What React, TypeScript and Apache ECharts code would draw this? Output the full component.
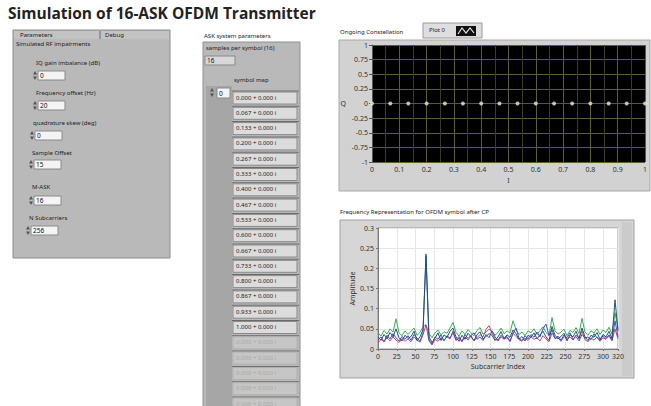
import React, { useEffect, useRef } from "react";
import * as echarts from "echarts";

const pageTitle = "Simulation of 16-ASK OFDM Transmitter";

// ASK symbol map (16 levels, real part; imaginary part all zero)
const symbolMapRe = [0.0, 0.067, 0.133, 0.2, 0.267, 0.333, 0.4, 0.467, 0.533, 0.6, 0.667, 0.733, 0.8, 0.867, 0.933, 1.0];
const symbolMapIm = [0, 0, 0, 0, 0, 0, 0, 0, 0, 0, 0, 0, 0, 0, 0, 0];

// Left parameter controls
const paramLabels = ["IQ gain imbalance (dB)", "Frequency offset (Hz)", "quadrature skew (deg)", "Sample Offset", "M-ASK", "N Subcarriers"];
const paramValues = ["0", "20", "0", "15", "16", "256"];

// Spectrum (subcarrier index, amplitude)
const subcarrierIdx = [
  0, 4, 8, 12, 16, 20, 24, 28, 32, 36, 40, 44, 48, 52, 56, 60, 64, 68, 72, 76,
  80, 84, 88, 92, 96, 100, 104, 108, 112, 116, 120, 124, 128, 132, 136, 140, 144, 148, 152, 156,
  160, 164, 168, 172, 176, 180, 184, 188, 192, 196, 200, 204, 208, 212, 216, 220, 224, 228, 232, 236,
  240, 244, 248, 252, 256, 260, 264, 268, 272, 276, 280, 284, 288, 292, 296, 300, 304, 308, 312, 316, 320,
];
const ampDark = [
  0.030, 0.022, 0.036, 0.026, 0.041, 0.030, 0.050, 0.028, 0.020, 0.034,
  0.026, 0.031, 0.044, 0.021, 0.030, 0.048, 0.235, 0.030, 0.016, 0.027,
  0.040, 0.021, 0.035, 0.029, 0.044, 0.052, 0.030, 0.019, 0.034, 0.024,
  0.039, 0.030, 0.021, 0.035, 0.043, 0.025, 0.031, 0.038, 0.034, 0.021,
  0.030, 0.043, 0.026, 0.035, 0.029, 0.047, 0.038, 0.024, 0.031, 0.020,
  0.034, 0.029, 0.040, 0.025, 0.035, 0.044, 0.030, 0.021, 0.056, 0.034,
  0.025, 0.031, 0.039, 0.020, 0.035, 0.030, 0.044, 0.026, 0.052, 0.030,
  0.021, 0.034, 0.029, 0.041, 0.024, 0.036, 0.030, 0.044, 0.026, 0.122, 0.045,
];
const ampGreen = [
  0.040, 0.032, 0.046, 0.037, 0.050, 0.042, 0.075, 0.040, 0.033, 0.045,
  0.036, 0.044, 0.052, 0.034, 0.041, 0.055, 0.060, 0.038, 0.028, 0.040,
  0.047, 0.035, 0.043, 0.039, 0.052, 0.066, 0.041, 0.032, 0.045, 0.036,
  0.048, 0.040, 0.033, 0.046, 0.053, 0.037, 0.042, 0.049, 0.044, 0.034,
  0.041, 0.052, 0.038, 0.045, 0.040, 0.070, 0.048, 0.036, 0.042, 0.033,
  0.045, 0.040, 0.050, 0.036, 0.046, 0.055, 0.041, 0.034, 0.078, 0.045,
  0.037, 0.042, 0.049, 0.033, 0.046, 0.041, 0.053, 0.038, 0.076, 0.042,
  0.034, 0.045, 0.040, 0.050, 0.036, 0.047, 0.041, 0.054, 0.037, 0.090, 0.050,
];
const ampBlue = [
  0.022, 0.030, 0.018, 0.034, 0.025, 0.038, 0.028, 0.020, 0.031, 0.024,
  0.033, 0.022, 0.036, 0.027, 0.019, 0.040, 0.230, 0.022, 0.012, 0.030,
  0.024, 0.035, 0.020, 0.033, 0.027, 0.040, 0.023, 0.031, 0.019, 0.036,
  0.026, 0.034, 0.040, 0.024, 0.030, 0.021, 0.036, 0.028, 0.045, 0.030,
  0.022, 0.034, 0.026, 0.031, 0.020, 0.038, 0.052, 0.027, 0.021, 0.033,
  0.025, 0.036, 0.029, 0.042, 0.030, 0.050, 0.062, 0.033, 0.048, 0.026,
  0.032, 0.022, 0.035, 0.028, 0.040, 0.024, 0.031, 0.020, 0.036, 0.027,
  0.030, 0.023, 0.038, 0.028, 0.021, 0.033, 0.026, 0.035, 0.022, 0.070, 0.030,
];
const ampMagenta = [
  0.015, 0.024, 0.018, 0.028, 0.020, 0.030, 0.022, 0.016, 0.026, 0.019,
  0.025, 0.018, 0.030, 0.022, 0.017, 0.035, 0.060, 0.020, 0.010, 0.024,
  0.019, 0.028, 0.022, 0.030, 0.025, 0.045, 0.021, 0.027, 0.018, 0.030,
  0.022, 0.033, 0.020, 0.028, 0.036, 0.030, 0.048, 0.058, 0.040, 0.025,
  0.020, 0.030, 0.024, 0.028, 0.018, 0.040, 0.031, 0.023, 0.019, 0.027,
  0.021, 0.030, 0.024, 0.028, 0.020, 0.033, 0.025, 0.018, 0.040, 0.026,
  0.028, 0.019, 0.031, 0.024, 0.030, 0.022, 0.035, 0.026, 0.045, 0.023,
  0.018, 0.027, 0.022, 0.030, 0.019, 0.028, 0.024, 0.032, 0.020, 0.050, 0.025,
];

const FONT = '"Noto Sans", "DejaVu Sans", sans-serif';

const txt = (x: number, y: number, text: string, size = 6.5, fill = "#1e1e1e", extra: any = {}) => ({
  type: "text",
  x,
  y,
  z: -5,
  silent: true,
  style: { text, fill, fontSize: size, fontFamily: FONT, verticalAlign: "top", align: "left", ...extra },
});
const box = (x: number, y: number, w: number, h: number, fill: string, stroke: string | null, z = -20) => ({
  type: "rect",
  z,
  silent: true,
  shape: { x, y, width: w, height: h },
  style: { fill, stroke: stroke || undefined, lineWidth: stroke ? 1 : 0 },
});
const arrows = (x: number, y: number) => [
  { type: "polygon", z: -6, silent: true, shape: { points: [[x, y + 3.5], [x + 2, y], [x + 4, y + 3.5]] }, style: { fill: "#555" } },
  { type: "polygon", z: -6, silent: true, shape: { points: [[x, y + 5.5], [x + 2, y + 9], [x + 4, y + 5.5]] }, style: { fill: "#555" } },
];

function buildGraphic() {
  const els: any[] = [];
  // Title
  els.push(txt(8, 5, pageTitle, 15.5, "#222", { fontWeight: "bold", fontFamily: '"Open Sans", "Noto Sans", sans-serif' }));

  // Left panel
  els.push(box(13, 30, 157, 228, "#b9b9b9", "#8c8c8c", -30));
  els.push(box(14, 31, 155, 8, "#c3c3c3", null, -28));
  els.push({ type: "line", z: -26, silent: true, shape: { x1: 100, y1: 31, x2: 100, y2: 39 }, style: { stroke: "#666", lineWidth: 1 } });
  els.push(txt(20, 31.5, "Parameters", 6, "#222"));
  els.push(txt(105, 31.5, "Debug", 6, "#222"));
  els.push(txt(16, 41, "Simulated RF impairments", 6, "#222"));
  const ctrlPos = [
    [36, 60, 38, 71],
    [36, 90, 38, 101],
    [33, 120, 35, 131],
    [32, 150, 34, 160],
    [32, 184, 34, 196],
    [29, 215, 31, 226],
  ];
  paramLabels.forEach((lab, i) => {
    const [lx, ly, bx, by] = ctrlPos[i];
    els.push(txt(lx, ly, lab, 6, "#222"));
    els.push(box(bx, by, 27, 9, "#f4f4f4", "#8a8a8a", -20));
    els.push(txt(bx + 2, by + 1, paramValues[i], 6.5, "#111"));
    els.push(...arrows(bx - 5, by));
  });

  // Middle column: ASK system parameters
  els.push(txt(204, 33, "ASK system parameters", 6, "#222"));
  els.push(box(203, 42, 97, 370, "#b9b9b9", "#909090", -30));
  els.push(txt(206, 45, "samples per symbol (16)", 6, "#222"));
  els.push(box(205, 56, 30, 9, "#d8d8d8", "#8a8a8a", -20));
  els.push(txt(207, 57, "16", 6.5, "#111"));
  els.push(txt(234, 77, "symbol map", 6, "#222"));
  els.push(box(206, 86, 26, 326, "#a6a6a6", null, -27));
  els.push(box(217, 88, 13, 10, "#f4f4f4", "#8a8a8a", -20));
  els.push(txt(219, 89.5, "0", 6.5, "#111"));
  els.push(...arrows(210, 88));
  const rowH = 15.3;
  for (let i = 0; i < 21; i++) {
    const y = 92 + i * rowH;
    const active = i < symbolMapRe.length;
    els.push(box(232, y - 1.5, 67, 1, "#6a6a6a", null, -22));
    els.push(box(233, y, 64, 12, active ? "#dcdcdc" : "#c6c6c6", active ? "#8a8a8a" : "#b0b0b0", -20));
    const re = active ? symbolMapRe[i] : 0;
    const im = active ? symbolMapIm[i] : 0;
    els.push(txt(236, y + 2.5, `${re.toFixed(3)} + ${im.toFixed(3)} i`, 6, active ? "#222" : "#a8a8a8"));
  }

  // Top-right: Ongoing Constellation
  els.push(txt(340, 29, "Ongoing Constellation", 6, "#222"));
  els.push(box(423, 23, 59, 15, "#dedede", "#9a9a9a", -20));
  els.push(txt(429, 27, "Plot 0", 6, "#222"));
  els.push(box(456, 26, 20, 10, "#111", null, -15));
  els.push({
    type: "polyline",
    z: -12,
    silent: true,
    shape: { points: [[458, 34], [462, 28], [466, 33], [470, 28], [474, 33]] },
    style: { stroke: "#e8e8e8", lineWidth: 1.2, fill: "none" },
  });
  els.push(box(339, 40, 311, 151, "#d2d2d2", "#a8a8a8", -30));

  // Bottom-right: spectrum
  els.push(txt(340, 209, "Frequency Representation for OFDM symbol after CP", 6, "#222"));
  els.push(box(340, 220, 294, 158, "#d6d6d6", "#a0a0a0", -30));
  els.push(box(622, 222, 10, 154, "#cbcbcb", null, -28));
  return els;
}

export default function App() {
  const ref = useRef<HTMLDivElement>(null);
  useEffect(() => {
    if (!ref.current) return;
    const chart = echarts.init(ref.current, undefined, { renderer: "svg" });
    const axisLabelSmall = { fontSize: 7, color: "#333", fontFamily: FONT };
    const makeLine = (data: number[], color: string, name: string) => ({
      type: "line",
      name,
      xAxisIndex: 1,
      yAxisIndex: 1,
      showSymbol: false,
      symbol: "none",
      lineStyle: { width: 1, color },
      itemStyle: { color },
      data: subcarrierIdx.map((x, i) => [x, data[i]]),
    });
    chart.setOption({
      animation: false,
      backgroundColor: "#ffffff",
      graphic: { elements: buildGraphic() },
      grid: [
        { left: 372, top: 45, width: 273, height: 117, show: true, backgroundColor: "#000000", borderWidth: 0 },
        { left: 378, top: 228, width: 240, height: 121, show: true, backgroundColor: "#ffffff", borderColor: "#9a9a9a", borderWidth: 1 },
      ],
      xAxis: [
        {
          type: "value",
          gridIndex: 0,
          min: 0,
          max: 1,
          interval: 0.1,
          name: "I",
          nameLocation: "middle",
          nameGap: 15,
          nameTextStyle: { fontSize: 7, color: "#333", fontFamily: FONT },
          axisLine: { show: true, lineStyle: { color: "#555" } },
          axisTick: { show: true, length: 3, lineStyle: { color: "#555" } },
          axisLabel: { ...axisLabelSmall, margin: 4, showMaxLabel: true, showMinLabel: true },
          splitLine: { show: true, lineStyle: { color: "#5e5e32", width: 1 } },
          minorTick: { show: false, splitNumber: 2 },
          minorSplitLine: { show: true, lineStyle: { color: "#3c3c22", width: 1 } },
        },
        {
          type: "value",
          gridIndex: 1,
          min: 0,
          max: 320,
          interval: 25,
          name: "Subcarrier Index",
          nameLocation: "middle",
          nameGap: 14,
          nameTextStyle: { fontSize: 7, color: "#333", fontFamily: FONT },
          axisLine: { show: true, lineStyle: { color: "#777" } },
          axisTick: { show: true, length: 2, lineStyle: { color: "#777" } },
          axisLabel: { ...axisLabelSmall, margin: 4, showMaxLabel: true },
          splitLine: { show: true, lineStyle: { color: "#e6e6e6", width: 1 } },
        },
      ],
      yAxis: [
        {
          type: "value",
          gridIndex: 0,
          min: -1,
          max: 1,
          interval: 0.25,
          name: "Q",
          nameLocation: "middle",
          nameGap: 26,
          nameRotate: 0,
          nameTextStyle: { fontSize: 7, color: "#333", fontFamily: FONT },
          axisLine: { show: true, lineStyle: { color: "#555" } },
          axisTick: { show: true, length: 3, lineStyle: { color: "#555" } },
          axisLabel: { ...axisLabelSmall, margin: 4 },
          splitLine: { show: true, lineStyle: { color: "#5e5e32", width: 1 } },
        },
        {
          type: "value",
          gridIndex: 1,
          min: 0,
          max: 0.3,
          interval: 0.05,
          name: "Amplitude",
          nameLocation: "middle",
          nameGap: 20,
          nameRotate: 90,
          nameTextStyle: { fontSize: 7, color: "#333", fontFamily: FONT },
          axisLine: { show: true, lineStyle: { color: "#777" } },
          axisTick: { show: true, length: 2, lineStyle: { color: "#777" } },
          axisLabel: { ...axisLabelSmall, margin: 4 },
          splitLine: { show: true, lineStyle: { color: "#e6e6e6", width: 1 } },
        },
      ],
      series: [
        {
          type: "scatter",
          name: "Plot 0",
          xAxisIndex: 0,
          yAxisIndex: 0,
          symbolSize: 4,
          itemStyle: { color: "#ecebc8" },
          data: symbolMapRe.map((v, i) => [v, symbolMapIm[i]]),
        },
        makeLine(ampGreen, "#3aa85a", "green"),
        makeLine(ampMagenta, "#c8407a", "magenta"),
        makeLine(ampBlue, "#3a52c4", "blue"),
        makeLine(ampDark, "#21566a", "dark"),
      ],
    });
    return () => chart.dispose();
  }, []);
  return (
    <div
      ref={ref}
      style={{ position: "fixed", left: 0, top: 0, width: 651, height: 406, background: "#fff" }}
    />
  );
}
